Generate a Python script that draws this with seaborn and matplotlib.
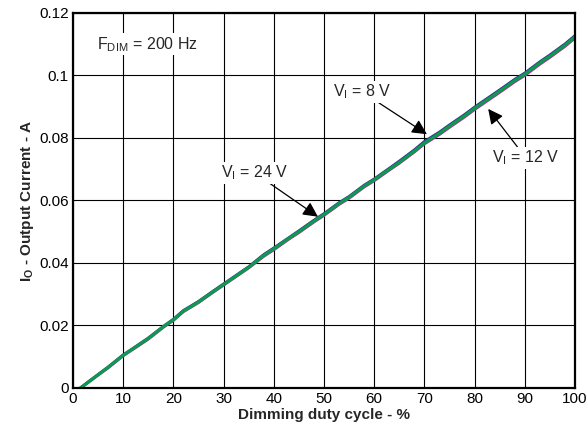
import matplotlib
matplotlib.use("Agg")
import matplotlib.pyplot as plt
import pandas as pd
import seaborn as sns

# Dimming duty cycle (%) and output current (A)
duty = [1.5, 3, 5, 7, 10, 12, 15, 18, 20, 22, 25, 28, 30, 33, 35, 38, 40,
        43, 45, 48, 50, 53, 55, 58, 60, 63, 65, 68, 70, 73, 75, 78, 80, 83,
        85, 88, 90, 93, 95, 98, 100]
io_24v = [0.0000, 0.0018, 0.0042, 0.0066, 0.0104, 0.0126, 0.0158, 0.0196,
          0.0218, 0.0246, 0.0275, 0.0309, 0.0331, 0.0364, 0.0386, 0.0424,
          0.0445, 0.0479, 0.0500, 0.0534, 0.0555, 0.0590, 0.0610, 0.0646,
          0.0666, 0.0700, 0.0722, 0.0758, 0.0784, 0.0815, 0.0838, 0.0871,
          0.0895, 0.0928, 0.0950, 0.0984, 0.1004, 0.1040, 0.1062, 0.1097,
          0.1124]
io_8v = [0.0000, 0.0019, 0.0043, 0.0067, 0.0106, 0.0127, 0.0160, 0.0197,
         0.0220, 0.0248, 0.0277, 0.0311, 0.0333, 0.0366, 0.0388, 0.0427,
         0.0448, 0.0481, 0.0503, 0.0537, 0.0558, 0.0593, 0.0613, 0.0649,
         0.0669, 0.0703, 0.0726, 0.0762, 0.0789, 0.0819, 0.0842, 0.0875,
         0.0899, 0.0932, 0.0954, 0.0988, 0.1008, 0.1044, 0.1066, 0.1101,
         0.1128]
io_12v = [0.0000, 0.0017, 0.0041, 0.0064, 0.0103, 0.0124, 0.0156, 0.0194,
          0.0216, 0.0244, 0.0273, 0.0307, 0.0329, 0.0362, 0.0384, 0.0421,
          0.0442, 0.0476, 0.0497, 0.0531, 0.0552, 0.0587, 0.0607, 0.0643,
          0.0663, 0.0697, 0.0719, 0.0755, 0.0781, 0.0811, 0.0834, 0.0867,
          0.0891, 0.0924, 0.0946, 0.0980, 0.1000, 0.1036, 0.1058, 0.1093,
          0.1120]

x_ticks = [0, 10, 20, 30, 40, 50, 60, 70, 80, 90, 100]
y_ticks = [0, 0.02, 0.04, 0.06, 0.08, 0.1, 0.12]
y_tick_labels = ["0", "0.02", "0.04", "0.06", "0.08", "0.1", "0.12"]

sns.set_style("white")
plt.rcParams["font.family"] = ["Liberation Sans", "DejaVu Sans"]
plt.rcParams["mathtext.fontset"] = "custom"
plt.rcParams["mathtext.rm"] = "Liberation Sans"
plt.rcParams["mathtext.bf"] = "Liberation Sans:bold"

df = pd.DataFrame({"duty": duty, "v8": io_8v, "v12": io_12v, "v24": io_24v})

fig, ax = plt.subplots(figsize=(5.88, 4.33), dpi=100)
fig.subplots_adjust(left=0.124, right=0.978, bottom=0.104, top=0.970)

sns.lineplot(data=df, x="duty", y="v12", color="#B0279E", linewidth=2.0, ax=ax)
sns.lineplot(data=df, x="duty", y="v8", color="#2E3192", linewidth=2.0, ax=ax)
sns.lineplot(data=df, x="duty", y="v24", color="#0F9850", linewidth=2.3, ax=ax)

ax.set_xlim(0, 100)
ax.set_ylim(0, 0.12)
ax.set_xticks(x_ticks)
ax.set_yticks(y_ticks)
ax.set_yticklabels(y_tick_labels)
ax.tick_params(length=0, labelsize=11, pad=3, colors="black")
ax.grid(True, color="black", linewidth=0.8)
ax.set_axisbelow(True)
for s in ax.spines.values():
    s.set_visible(True)
    s.set_color("black")
    s.set_linewidth(1.6)

ax.set_xlabel("Dimming duty cycle - %", fontsize=11, fontweight="bold", labelpad=1)
ax.set_ylabel(r"I$_\mathbf{O}$ - Output Current - A", fontsize=11,
              fontweight="bold", labelpad=2)

box = dict(fc="white", ec="none", pad=1)
arrow = dict(arrowstyle="-|>,head_length=0.5,head_width=0.25", color="black",
             lw=0.9, mutation_scale=18, shrinkA=0, shrinkB=0)

ax.text(4.8, 0.110, r"F$_\mathrm{DIM}$ = 200 Hz", fontsize=11.5, va="center",
        bbox=box)
ax.annotate(r"V$_\mathrm{I}$ = 8 V", xy=(70.5, 0.0812), xytext=(51.8, 0.0947),
            fontsize=11.5, va="center", bbox=box, arrowprops=arrow)
ax.annotate(r"V$_\mathrm{I}$ = 12 V", xy=(82.7, 0.0893), xytext=(83.5, 0.0736),
            fontsize=11.5, va="center", bbox=box, arrowprops=arrow)
ax.annotate(r"V$_\mathrm{I}$ = 24 V", xy=(48.8, 0.0548), xytext=(29.5, 0.0688),
            fontsize=11.5, va="center", bbox=box, arrowprops=arrow)

fig.savefig("out.png", dpi=100)
